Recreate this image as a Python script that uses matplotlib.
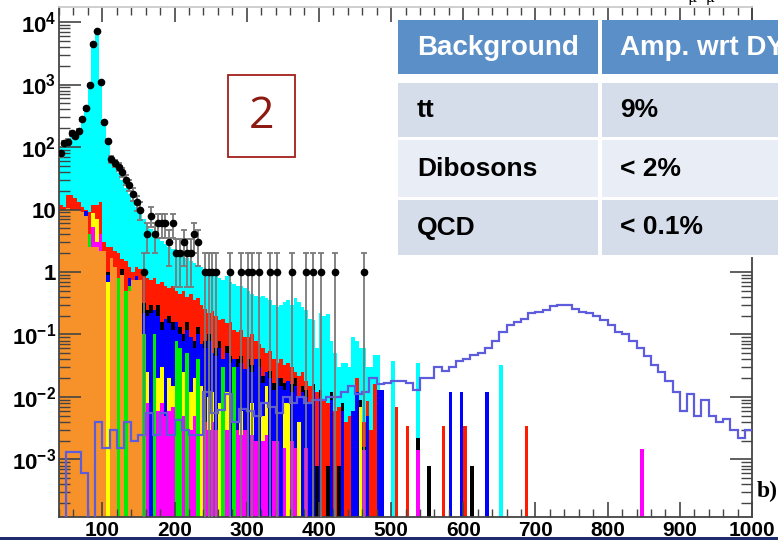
import numpy as np
import matplotlib.pyplot as plt
from matplotlib.patches import Rectangle
from matplotlib.ticker import MultipleLocator, LogLocator

plt.rcParams['font.family'] = ['Liberation Sans', 'DejaVu Sans']
plt.rcParams['mathtext.fontset'] = 'custom'
plt.rcParams['mathtext.rm'] = 'Liberation Sans:bold'
plt.rcParams['mathtext.bf'] = 'Liberation Sans:bold'
plt.rcParams['mathtext.it'] = 'Liberation Sans:bold'

# stacked MC, 5 GeV bins from 40 to 500 GeV (top of each coloured band)
cyan = [100, 110, 120, 150, 165, 200, 280, 420, 1050, 4600,
        7300, 1100, 250, 110, 70, 50, 38, 30, 22, 18,
        14, 11, 9, 7, 5.5, 4.8, 4, 3.5, 3.1, 2.8,
        2.5, 2.3, 2.2, 2.0, 1.8, 1.7, 1.5, 1.4, 1.3, 1.2,
        1.1, 1.0, 0.9, 0.95, 0.8, 0.75, 0.85, 0.7, 0.65, 0.6,
        0.6, 0.55, 0.5, 0.45, 0.42, 0.4, 0.42, 0.38, 0.35, 0.3,
        0.28, 0.3, 0.33, 0.35, 0.3, 0.38, 0.33, 0.28, 0.25, 0.18,
        0.17, 0.06, 0.22, 0.2, 0.21, 0.08, 0.05, 0.03, 0.035, 0.035,
        0.03, 0.09, 0.08, 0.06, 0.06, 0.03, 0.03, 0.047, 0.047, 0,
        0, 0]
red = [12, 11, 17, 17, 15, 13, 11, 10, 9, 12,
       12, 13, 3, 2.5, 2.5, 2.2, 2.0, 1.6, 1.5, 1.2,
       1.0, 1.2, 1.1, 0.9, 0.8, 0.75, 0.8, 0.65, 0.7, 0.6,
       0.55, 0.6, 0.5, 0.45, 0.5, 0.4, 0.45, 0.35, 0.38, 0.3,
       0.26, 0.22, 0.24, 0.2, 0.17, 0.18, 0.15, 0.16, 0.12, 0.11,
       0.12, 0.09, 0.09, 0.1, 0.08, 0.07, 0.06, 0.05, 0.055, 0.04,
       0.035, 0.04, 0.033, 0.035, 0.03, 0.025, 0.022, 0.025, 0.018, 0.015,
       0.014, 0.012, 0.012, 0.009, 0.008, 0.007, 0.006, 0.007, 0.005, 0.004,
       0.005, 0.004, 0.02, 0.006, 0.004, 0.0085, 0.003, 0.016, 0.006, 0,
       0, 0]
black = [0, 0, 0, 0, 0, 0, 0, 0, 0, 0,
         0, 0, 0, 1.0, 0, 0, 0, 1.1, 0, 0,
         0, 0, 0, 0.32, 0.25, 0.3, 0, 0.3, 0.16, 0,
         0.2, 0.16, 0, 0.13, 0.1, 0.16, 0, 0.08, 0.13, 0,
         0.08, 0.1, 0, 0.06, 0.08, 0, 0.065, 0.045, 0, 0.04,
         0.045, 0, 0.04, 0.032, 0, 0.04, 0.022, 0, 0.026, 0.017,
         0, 0.02, 0.017, 0, 0.016, 0.02, 0, 0.015, 0.013, 0,
         0.016, 0.0008, 0.013, 0, 0.0008, 0.012, 0, 0.0008, 0.008, 0,
         0, 0, 0, 0.009, 0.0016, 0, 0, 0, 0, 0,
         0, 0]
blue = [0, 0, 0, 0, 0, 0, 0, 9.5, 0, 0,
        0, 0, 0, 0.9, 1.3, 0, 0, 0.9, 0, 0.8,
        0, 0.85, 0, 0.22, 0.2, 0.22, 0.25, 0.2, 0.12, 0.18,
        0.15, 0.12, 0.16, 0.1, 0.08, 0.12, 0.09, 0.06, 0.1, 0.07,
        0.06, 0.08, 0.05, 0.045, 0.06, 0.04, 0.05, 0.035, 0.04, 0.03,
        0.035, 0.028, 0.03, 0.025, 0.04, 0.03, 0.017, 0.025, 0.02, 0.013,
        0.02, 0.015, 0.013, 0.018, 0.012, 0.015, 0.01, 0.012, 0.01, 0.008,
        0.013, 0, 0.01, 0, 0, 0.009, 0, 0, 0.006, 0,
        0, 0.006, 0.012, 0.007, 0, 0.005, 0, 0, 0.013, 0.013,
        0, 0]
green = [0, 0, 0, 0, 0, 0, 0, 0, 4, 0,
         0, 0, 0, 0.6, 0, 0, 0.8, 0, 0.5, 0.6,
         0, 0, 0, 0.1, 0, 0, 0.1, 0, 0, 0,
         0, 0, 0.08, 0.06, 0, 0.05, 0, 0, 0.04, 0,
         0, 0, 0, 0, 0, 0.03, 0, 0, 0.03, 0,
         0, 0, 0, 0, 0, 0, 0, 0, 0, 0,
         0, 0, 0, 0, 0, 0, 0, 0, 0, 0,
         0, 0, 0, 0, 0, 0, 0, 0, 0, 0,
         0, 0, 0, 0, 0, 0, 0, 0, 0, 0,
         0, 0]
yellow = [0, 0, 0, 0, 0, 0, 0, 0, 0, 8.8,
          7, 0, 0, 0.7, 0, 0, 0, 0, 0, 0,
          0, 0, 0, 0, 0.025, 0, 0, 0.02, 0.03, 0,
          0.02, 0.015, 0, 0, 0.025, 0, 0.012, 0.02, 0, 0.015,
          0, 0.01, 0.012, 0, 0.008, 0, 0.012, 0, 0, 0,
          0.006, 0, 0, 0.008, 0, 0, 0.005, 0.015, 0, 0,
          0, 0, 0.008, 0.008, 0, 0, 0.004, 0, 0, 0,
          0, 0, 0, 0, 0, 0, 0, 0, 0, 0,
          0, 0, 0, 0.007, 0, 0, 0, 0, 0, 0,
          0, 0]
magenta = [0, 0, 0, 0, 0, 0, 0, 0, 0, 5.3,
           3, 4, 0, 0, 0, 0, 0, 0, 0, 0,
           0, 0, 0, 0, 0.008, 0, 0, 0.006, 0.008, 0.005,
           0.006, 0.007, 0, 0, 0.005, 0, 0.003, 0.005, 0, 0,
           0.004, 0.003, 0.004, 0.003, 0, 0, 0.003, 0, 0, 0.003,
           0.0025, 0.003, 0, 0.0025, 0.002, 0, 0.002, 0.0025, 0, 0.002,
           0.002, 0, 0.0015, 0, 0.002, 0.0015, 0, 0, 0.0015, 0,
           0, 0, 0, 0, 0, 0, 0, 0, 0, 0,
           0, 0, 0, 0, 0.0014, 0, 0, 0, 0, 0,
           0, 0]
orange = [10, 10, 10.5, 10, 10, 10, 9, 8, 2.5, 2.5,
          2.5, 2.2, 2.2, 0, 1.7, 1.2, 0, 0.9, 0, 0.5,
          0.75, 0.75, 0.75] + [0] * 69

# sparse high-mass bins (bin centre, GeV)
tail_cyan_m, tail_cyan = [502.5, 537.5, 652.5], [0.037, 0.035, 0.033]
tail_red_m, tail_red = [507.5, 522.5, 572.5, 602.5, 687.5], [0.007, 0.0034, 0.0034, 0.0034, 0.0034]
tail_black_m, tail_black = [537.5, 552.5, 612.5], [0.0022, 0.00078, 0.00078]
tail_blue_m, tail_blue = [582.5, 597.5, 632.5], [0.012, 0.012, 0.012]
tail_magenta_m, tail_magenta = [537.5, 847.5], [0.0014, 0.00145]

# data, 5 GeV bins from 40 to 500 GeV
data = [79, 115, 122, 165, 150, 182, 277, 415, 970, 4500,
        7200, 1090, 248, 125, 64, 55, 48, 40, 30, 25,
        18, 13, 10, 1, 4, 8, 4, 6, 6, 6,
        3, 6, 2, 2, 3, 2, 2, 4, 3, 0,
        1, 1, 1, 1, 0, 0, 0, 1, 0, 0,
        1, 0, 1, 1, 0, 1, 0, 0, 1, 0,
        1, 0, 0, 0, 1, 0, 0, 0, 1, 0,
        1, 0, 1, 0, 0, 0, 1, 0, 0, 0,
        0, 0, 0, 0, 1, 0, 0, 0, 0, 0,
        0, 0]

# signal, 10 GeV bins from 40 to 1000 GeV
signal = [0, 1.3e-3, 1.3e-3, 6e-4, 0, 4e-3, 1.5e-3, 3e-3, 1.5e-3, 4e-3,
          2e-3, 2.5e-3, 5.5e-3, 2.5e-3, 5.5e-3, 2.5e-3, 4.3e-3, 3e-3, 2.5e-3, 2.5e-3,
          1.2e-2, 5.5e-3, 6.3e-3, 1.1e-2, 4e-3, 6.5e-3, 6e-3, 5e-3, 8e-3, 7e-3,
          5.5e-3, 1e-2, 8e-3, 1e-2, 8e-3, 9e-3, 9e-3, 1e-2, 1e-2, 1.2e-2,
          1.5e-2, 1.1e-2, 1.2e-2, 2e-2, 1.6e-2, 1.7e-2, 1.8e-2, 1.8e-2, 1.7e-2, 1.3e-2,
          2e-2, 2e-2, 3e-2, 2.6e-2, 3e-2, 3.8e-2, 4e-2, 4.7e-2, 5e-2, 6e-2,
          8e-2, 0.11, 0.14, 0.16, 0.18, 0.22, 0.23, 0.25, 0.29, 0.3,
          0.3, 0.26, 0.23, 0.22, 0.2, 0.17, 0.14, 0.11, 0.1, 0.08,
          0.06, 0.045, 0.032, 0.025, 0.018, 0.012, 0.006, 0.011, 0.005, 0.009,
          0.005, 0.004, 0.0045, 0.003, 0.0022, 0.003]

ytick_vals = [1e-3, 1e-2, 1e-1, 1, 10, 1e2, 1e3, 1e4]
ytick_labels = [r'$\mathbf{10^{-3}}$', r'$\mathbf{10^{-2}}$', r'$\mathbf{10^{-1}}$', '1', '10',
                r'$\mathbf{10^{2}}$', r'$\mathbf{10^{3}}$', r'$\mathbf{10^{4}}$']

table_header = ['Background', 'Amp. wrt DY']
table_rows = [['tt', '9%'], ['Dibosons', '< 2%'], ['QCD', '< 0.1%']]

W, H = 778, 540
fig = plt.figure(figsize=(W / 100, H / 100), dpi=100)
ax = fig.add_axes([59 / W, 1 - 517 / H, (752 - 59) / W, (517 - 7) / H])
ax.set_yscale('log')
ax.set_xlim(40, 1000)
ax.set_ylim(1.2e-4, 1.74e4)

edges = np.arange(40, 1001, 5)
base = 1e-5


def full_hist(vals, tail_m=(), tail_v=()):
    h = np.zeros(len(edges) - 1)
    h[:len(vals)] = vals
    for m, v in zip(tail_m, tail_v):
        h[np.searchsorted(edges, m) - 1] = v
    return h


layers = [
    ('#00ffff', full_hist(cyan, tail_cyan_m, tail_cyan)),
    ('#ff1a00', full_hist(red, tail_red_m, tail_red)),
    ('#000000', full_hist(black, tail_black_m, tail_black)),
    ('#0000ff', full_hist(blue, tail_blue_m, tail_blue)),
    ('#00ee00', full_hist(green)),
    ('#ffff00', full_hist(yellow)),
    ('#ff00ff', full_hist(magenta, tail_magenta_m, tail_magenta)),
    ('#f7922a', full_hist(orange)),
]
for c, h in layers:
    ax.stairs(np.where(h > 0, h, base), edges, baseline=base, fill=True,
              color=c, lw=0, zorder=1)

edges10 = np.arange(40, 1001, 10)
ax.stairs(np.maximum(np.array(signal), base), edges10, baseline=None,
          color='#5c5cdc', lw=1.6, zorder=3)

d = np.array(data, dtype=float)
centers = edges[:len(d)] + 2.5
m = d > 0
err = np.sqrt(d[m])
lo = np.where(d[m] - err > 0, err, d[m] * 0.99999)
ax.errorbar(centers[m], d[m], yerr=[lo, err], fmt='o', color='k', ms=4.5,
            ecolor='#7a7a7a', elinewidth=1.3, capsize=2.5, capthick=1.3, zorder=5)

ax.set_xticks(np.arange(100, 1001, 100))
ax.xaxis.set_minor_locator(MultipleLocator(20))
ax.set_yticks(ytick_vals, labels=ytick_labels)
ax.yaxis.set_minor_locator(LogLocator(base=10, subs=np.arange(2, 10)))
ax.tick_params(which='both', direction='in', top=True, right=True,
               color='#444444', labelcolor='black')
ax.tick_params(axis='y', which='major', length=16, width=1.2, pad=2, labelsize=16)
ax.tick_params(axis='y', which='minor', length=8, width=1.0)
ax.tick_params(axis='x', which='major', length=11, width=1.2, pad=3, labelsize=15)
ax.tick_params(axis='x', which='minor', length=5.5, width=1.0)
for lab in ax.get_xticklabels() + ax.get_yticklabels():
    lab.set_fontweight('bold')
for s in ax.spines.values():
    s.set_color('#444444')
    s.set_linewidth(1.3)
ax.spines['top'].set_color('#cccccc')


def fig_rect(x0, y0, x1, y1, fc, ec='none', lw=0, z=2):
    fig.add_artist(Rectangle((x0 / W, 1 - y1 / H), (x1 - x0) / W, (y1 - y0) / H,
                             transform=fig.transFigure, facecolor=fc,
                             edgecolor=ec, linewidth=lw, zorder=z))


# table overlay
fig_rect(398, 20, W, 257, 'white')
fig_rect(398, 20, 598, 74, '#5b8fc7')
fig_rect(602, 20, W, 74, '#5b8fc7')
row_spans = [(83, 137, '#d5dcea'), (140, 197, '#e9edf5'), (200, 255, '#d5dcea')]
for y0, y1, c in row_spans:
    fig_rect(398, y0, 598, y1, c)
    fig_rect(602, y0, W, y1, c)
fig.text(417 / W, 1 - 48 / H, table_header[0], color='white', fontsize=20,
         fontweight='bold', va='center', zorder=3)
fig.text(620 / W, 1 - 48 / H, table_header[1], color='white', fontsize=20,
         fontweight='bold', va='center', zorder=3)
for (y0, y1, c), row in zip(row_spans, table_rows):
    yc = 1 - (y0 + y1) / 2 / H
    fig.text(417 / W, yc, row[0], color='black', fontsize=19, fontweight='bold',
             va='center', zorder=3)
    fig.text(620 / W, yc, row[1], color='black', fontsize=19, fontweight='bold',
             va='center', zorder=3)

# numbered box
fig_rect(228, 75, 295, 157, 'white', ec='#a02018', lw=1.3)
fig.text(261.5 / W, 1 - 117 / H, '2', color='#8c1a12', fontsize=32,
         family='Open Sans', ha='center', va='center', zorder=3)

fig.text(757 / W, 1 - 497 / H, 'b)', fontsize=17, fontweight='bold',
         family='Liberation Serif', va='baseline', zorder=3)
fig.text(688 / W, 1 - 2 / H, 'μ  μ', fontsize=10, family='DejaVu Serif',
         va='baseline', zorder=3)

fig_rect(0, 537, W, H, '#1f2d6e', z=4)

fig.savefig('out.png', dpi=100, facecolor='white')
